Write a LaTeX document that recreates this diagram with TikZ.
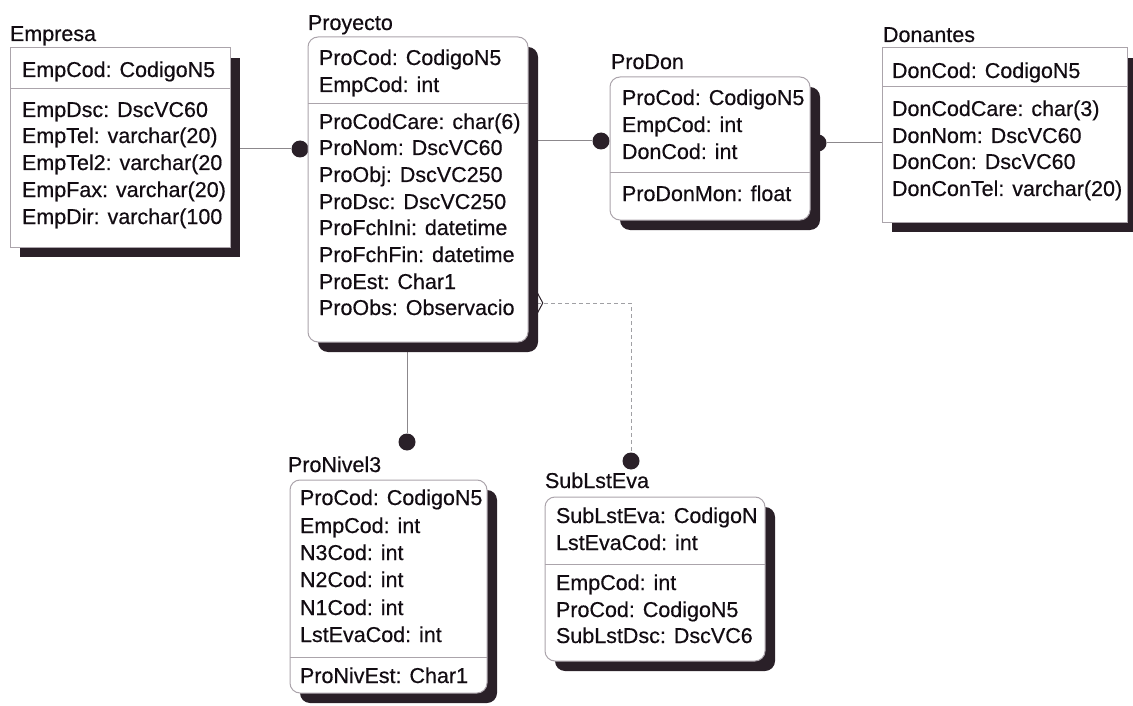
\documentclass[tikz,border=0pt]{standalone}
\usepackage{fontspec}
\setmainfont{Liberation Sans}[FakeBold=0.45]
\usetikzlibrary{calc,shapes.geometric}

\definecolor{ink}{HTML}{120C12}
\definecolor{shade}{HTML}{2A2028}
\definecolor{edge}{HTML}{ABA4AB}
\definecolor{relgray}{HTML}{8C888C}
\definecolor{dashgray}{HTML}{A0A0A4}

\pgfdeclarelayer{links}
\pgfdeclarelayer{drops}
\pgfsetlayers{links,drops,main}

\tikzset{
  entbox/.style={draw=edge, fill=white, line width=1pt, inner sep=0pt, outer sep=0pt, anchor=north west},
  depbox/.style={entbox, rounded corners=10pt},
  fld/.style={anchor=base west, inner sep=0pt, outer sep=0pt, text=ink, font=\fontsize{21.5}{26}\selectfont},
  sepline/.style={draw=edge, line width=1pt},
  rel/.style={draw=relgray, line width=1pt},
  nullrel/.style={draw=dashgray, line width=1pt, dash pattern=on 4pt off 3pt},
  dotend/.style={circle, fill=shade, inner sep=0pt, minimum size=17pt},
  drop/.style={fill=shade},
  nulldiamond/.style={diamond, draw=shade, line width=1pt, inner sep=0pt, minimum width=12pt, minimum height=22pt},
}

% a field (or title) line: name, x, baseline y, text
\newcommand\fieldat[4]{\node[fld] (#1) at (#2,#3) {#4};}
% drop shadow behind an entity box
\newcommand\dropbox[2][]{%
  \begin{pgfonlayer}{drops}
    \fill[drop,#1] ($(#2.north west)+(10,10)$) rectangle ($(#2.south east)+(10,10)$);
  \end{pgfonlayer}}
% key / non-key separator
\newcommand\keysep[2]{\draw[sepline] (#1.west |- 0,#2) -- (#1.east |- 0,#2);}

\begin{document}
\begin{tikzpicture}[x=1pt, y=-1pt]
\useasboundingbox (0,0) rectangle (1133,706);

% ---------- Empresa ----------
\node[entbox, minimum width=220pt, minimum height=199pt] (empresa) at (10,48) {};
\dropbox{empresa}
\fieldat{empresa-t}{10}{41}{Empresa}
\fieldat{empresa-1}{22}{77}{EmpCod: CodigoN5}
\keysep{empresa}{89}
\fieldat{empresa-2}{22}{117}{EmpDsc: DscVC60}
\fieldat{empresa-3}{22}{143}{EmpTel: varchar(20)}
\fieldat{empresa-4}{22}{170}{EmpTel2: varchar(20}
\fieldat{empresa-5}{22}{197}{EmpFax: varchar(20)}
\fieldat{empresa-6}{22}{224}{EmpDir: varchar(100}

% ---------- Proyecto ----------
\node[depbox, minimum width=220pt, minimum height=305pt] (proyecto) at (308,37) {};
\dropbox[rounded corners=10pt]{proyecto}
\fieldat{proyecto-t}{308}{30}{Proyecto}
\fieldat{proyecto-1}{319}{65}{ProCod: CodigoN5}
\fieldat{proyecto-2}{319}{92}{EmpCod: int}
\keysep{proyecto}{104}
\fieldat{proyecto-3}{319}{129}{ProCodCare: char(6)}
\fieldat{proyecto-4}{319}{155}{ProNom: DscVC60}
\fieldat{proyecto-5}{319}{182}{ProObj: DscVC250}
\fieldat{proyecto-6}{319}{209}{ProDsc: DscVC250}
\fieldat{proyecto-7}{319}{235}{ProFchIni: datetime}
\fieldat{proyecto-8}{319}{262}{ProFchFin: datetime}
\fieldat{proyecto-9}{319}{289}{ProEst: Char1}
\fieldat{proyecto-10}{319}{315}{ProObs: Observacio}

% ---------- ProDon ----------
\node[depbox, minimum width=200pt, minimum height=143pt] (prodon) at (610,77) {};
\dropbox[rounded corners=10pt]{prodon}
\fieldat{prodon-t}{611}{69}{ProDon}
\fieldat{prodon-1}{622}{105}{ProCod: CodigoN5}
\fieldat{prodon-2}{622}{132}{EmpCod: int}
\fieldat{prodon-3}{622}{159}{DonCod: int}
\keysep{prodon}{173}
\fieldat{prodon-4}{622}{201}{ProDonMon: float}

% ---------- Donantes ----------
\node[entbox, minimum width=245pt, minimum height=174pt] (donantes) at (882,48) {};
\dropbox{donantes}
\fieldat{donantes-t}{883}{42}{Donantes}
\fieldat{donantes-1}{892}{78}{DonCod: CodigoN5}
\keysep{donantes}{87}
\fieldat{donantes-2}{892}{116}{DonCodCare: char(3)}
\fieldat{donantes-3}{892}{143}{DonNom: DscVC60}
\fieldat{donantes-4}{892}{169}{DonCon: DscVC60}
\fieldat{donantes-5}{892}{196}{DonConTel: varchar(20)}

% ---------- ProNivel3 ----------
\node[depbox, minimum width=197pt, minimum height=213pt] (pronivel) at (290,480) {};
\dropbox[rounded corners=10pt]{pronivel}
\fieldat{pronivel-t}{288}{472}{ProNivel3}
\fieldat{pronivel-1}{300}{505}{ProCod: CodigoN5}
\fieldat{pronivel-2}{300}{533}{EmpCod: int}
\fieldat{pronivel-3}{300}{560}{N3Cod: int}
\fieldat{pronivel-4}{300}{587}{N2Cod: int}
\fieldat{pronivel-5}{300}{615}{N1Cod: int}
\fieldat{pronivel-6}{300}{642}{LstEvaCod: int}
\keysep{pronivel}{657}
\fieldat{pronivel-7}{300}{683}{ProNivEst: Char1}

% ---------- SubLstEva ----------
\node[depbox, minimum width=220pt, minimum height=164pt] (sublst) at (545,497) {};
\dropbox[rounded corners=10pt]{sublst}
\fieldat{sublst-t}{545}{488}{SubLstEva}
\fieldat{sublst-1}{556}{523}{SubLstEva: CodigoN}
\fieldat{sublst-2}{556}{550}{LstEvaCod: int}
\keysep{sublst}{564}
\fieldat{sublst-3}{556}{590}{EmpCod: int}
\fieldat{sublst-4}{556}{617}{ProCod: CodigoN5}
\fieldat{sublst-5}{556}{643}{SubLstDsc: DscVC6}

% ---------- relationships ----------
\begin{pgfonlayer}{links}
  \node[dotend] (d1) at (300,149) {};
  \node[dotend] (d2) at (601,141) {};
  \node[dotend] (d3) at (818,143) {};
  \node[dotend] (d4) at (407,442) {};
  \node[dotend] (d5) at (631,461) {};
  \coordinate (pj) at (537,303);
  \draw[rel] (empresa.east |- d1) -- (d1);
  \draw[rel] (proyecto.east |- d2) -- (d2);
  \draw[rel] (d3) -- (donantes.west |- d3);
  \draw[rel] (proyecto.south -| d4) -- (d4);
  \draw[nullrel] (pj) -- (d5 |- pj) -- (d5);
\end{pgfonlayer}
\node[nulldiamond] (pjd) at (pj) {};

\end{tikzpicture}
\end{document}
